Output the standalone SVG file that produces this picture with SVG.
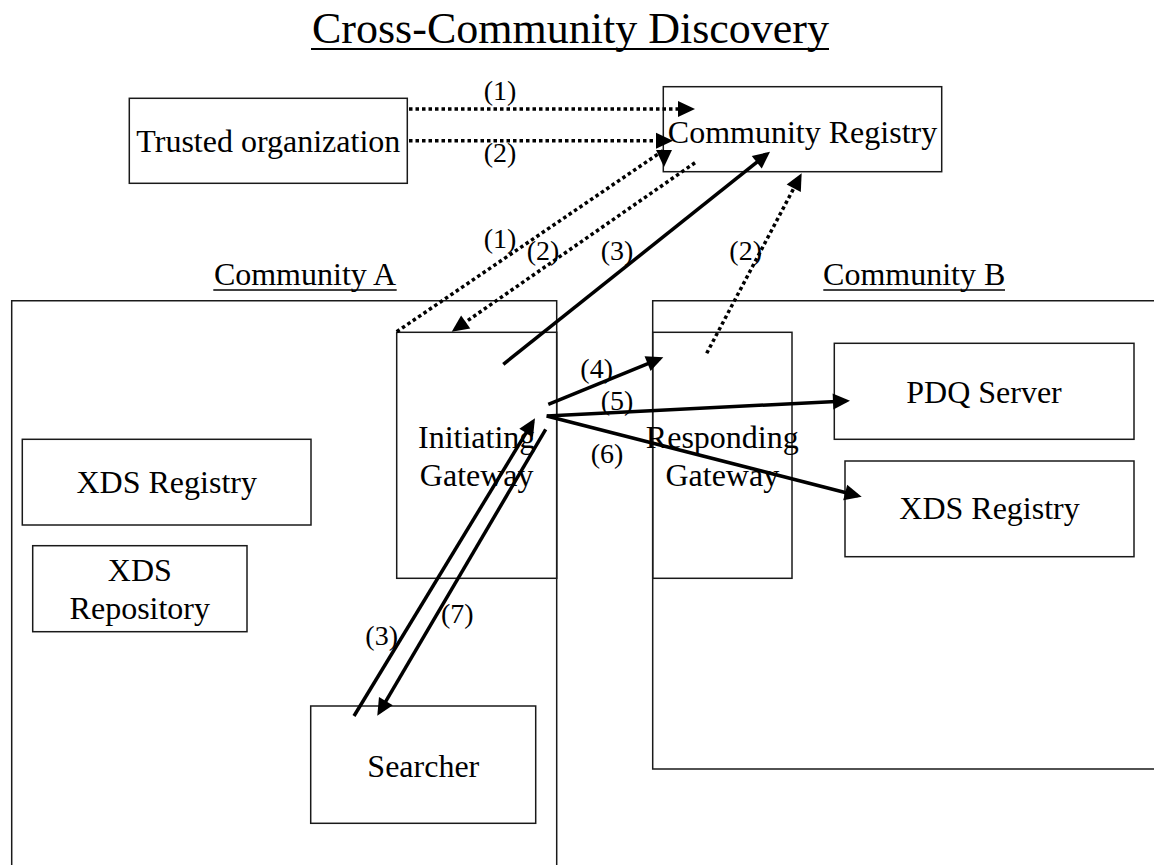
<svg xmlns="http://www.w3.org/2000/svg" width="1154" height="865" viewBox="0 0 1154 865">
  <style>
    text { font-family: "Liberation Serif", "Times New Roman", serif; fill: #000; }
    .box { fill: none; stroke: #1a1a1a; stroke-width: 1.5; }
    .name { font-size: 32px; text-anchor: middle; }
    .num { font-size: 28px; text-anchor: middle; }
    .uline { stroke: #000; stroke-width: 1.6; }
    .solid { fill: none; stroke: #000; stroke-width: 3.5; marker-end: url(#head); }
    .dotted { fill: none; stroke: #000; stroke-width: 3.5; stroke-dasharray: 3.5 3; marker-end: url(#head); }
  </style>
  <defs>
    <marker id="head" markerUnits="userSpaceOnUse" markerWidth="17" markerHeight="16" refX="13" refY="8" orient="auto" overflow="visible">
      <path d="M0,0 L17,8 L0,16 Z" fill="#000"/>
    </marker>
  </defs>

  <rect width="1154" height="865" fill="#fff"/>

  <!-- heading -->
  <g id="title">
    <text x="312" y="43" font-size="44">Cross-Community Discovery</text>
    <line x1="311" y1="49" x2="829" y2="49" stroke="#000" stroke-width="2.2"/>
  </g>

  <!-- community containers -->
  <g id="community-a">
    <path class="box" d="M11.7,870 V300.7 H556.7 V870"/>
    <text class="name" x="305" y="285">Community A</text>
    <line class="uline" x1="213.3" y1="290" x2="396.7" y2="290"/>
  </g>
  <g id="community-b">
    <path class="box" d="M1160,300.7 H652.7 V769 H1160"/>
    <text class="name" x="914.2" y="285">Community B</text>
    <line class="uline" x1="823.3" y1="290" x2="1005" y2="290"/>
  </g>

  <!-- nodes -->
  <g id="trusted-organization">
    <rect class="box" x="129.3" y="98.3" width="278" height="85"/>
    <text class="name" x="268.3" y="151.7">Trusted organization</text>
  </g>
  <g id="community-registry">
    <rect class="box" x="663.3" y="86.7" width="278.4" height="85"/>
    <text class="name" x="802.5" y="142.7">Community Registry</text>
  </g>
  <g id="initiating-gateway">
    <rect class="box" x="396.7" y="332.3" width="160" height="246"/>
    <text class="name" x="476.7" y="448.3">Initiating</text>
    <text class="name" x="476.7" y="486">Gateway</text>
  </g>
  <g id="responding-gateway">
    <rect class="box" x="652.7" y="332.3" width="139.3" height="246"/>
    <text class="name" x="722.3" y="448.3">Responding</text>
    <text class="name" x="722.3" y="486">Gateway</text>
  </g>
  <g id="pdq-server">
    <rect class="box" x="834.3" y="343.3" width="299.7" height="96"/>
    <text class="name" x="984" y="402.7">PDQ Server</text>
  </g>
  <g id="xds-registry-b">
    <rect class="box" x="845" y="461" width="289" height="95.7"/>
    <text class="name" x="989.5" y="519.3">XDS Registry</text>
  </g>
  <g id="xds-registry-a">
    <rect class="box" x="22.3" y="439.3" width="288.7" height="85.7"/>
    <text class="name" x="166.7" y="493.3">XDS Registry</text>
  </g>
  <g id="xds-repository">
    <rect class="box" x="32.7" y="545.7" width="214.3" height="86"/>
    <text class="name" x="139.8" y="580.7">XDS</text>
    <text class="name" x="139.8" y="619">Repository</text>
  </g>
  <g id="searcher">
    <rect class="box" x="310.7" y="706" width="225" height="117.3"/>
    <text class="name" x="423.3" y="776.7">Searcher</text>
  </g>

  <!-- connectors -->
  <g id="connectors">
    <path class="dotted" d="M409,109 L691,109"/>
    <path class="dotted" d="M409,140.7 L669,140.7"/>
    <path class="dotted" d="M396.7,331.7 L664,150 L664,163"/>
    <path class="dotted" d="M695,162.7 L455,329.4"/>
    <path class="dotted" d="M706.7,353.3 L799.8,176.8"/>
    <path class="solid" d="M503.3,364.3 L766.9,154.2"/>
    <path class="solid" d="M354,716 L532.9,421.7"/>
    <path class="solid" d="M545.7,429.3 L379.3,712.3"/>
    <path class="solid" d="M548.3,404.3 L659.6,358.8"/>
    <path class="solid" d="M546.7,416 L846,400.9"/>
    <path class="solid" d="M546.7,416 L857.8,495.7"/>
  </g>

  <!-- step numbers -->
  <g id="step-labels">
    <text class="num" x="500" y="100">(1)</text>
    <text class="num" x="500" y="161.7">(2)</text>
    <text class="num" x="500" y="248">(1)</text>
    <text class="num" x="543" y="260">(2)</text>
    <text class="num" x="617" y="260">(3)</text>
    <text class="num" x="745.7" y="260">(2)</text>
    <text class="num" x="596.7" y="378">(4)</text>
    <text class="num" x="617" y="410">(5)</text>
    <text class="num" x="607" y="463">(6)</text>
    <text class="num" x="381.7" y="645">(3)</text>
    <text class="num" x="457.3" y="623">(7)</text>
  </g>
</svg>
